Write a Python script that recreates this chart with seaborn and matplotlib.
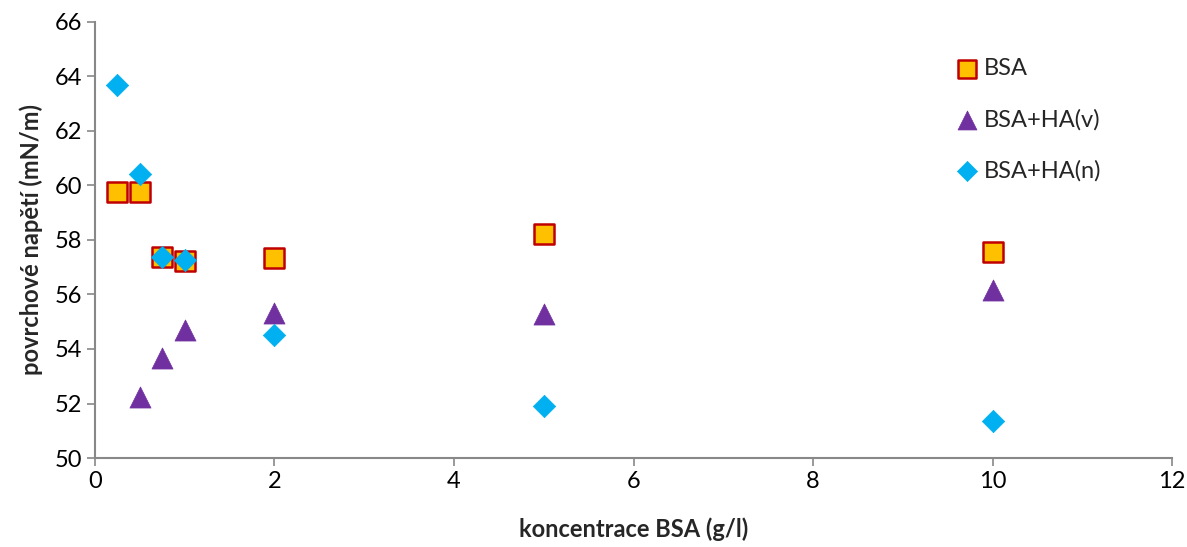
import matplotlib
matplotlib.use("Agg")
import matplotlib.pyplot as plt
import seaborn as sns
import pandas as pd

x_bsa = [0.25, 0.5, 0.75, 1, 2, 5, 10]
y_bsa = [59.75, 59.77, 57.36, 57.22, 57.33, 58.22, 57.56]
x_hav = [0.5, 0.75, 1, 2, 5, 10]
y_hav = [52.25, 53.68, 54.70, 55.32, 55.28, 56.17]
x_han = [0.25, 0.5, 0.75, 1, 2, 5, 10]
y_han = [63.69, 60.42, 57.38, 57.25, 54.51, 51.91, 51.36]
labels = ["BSA", "BSA+HA(v)", "BSA+HA(n)"]

sns.set_style("white")
plt.rcParams['font.family'] = ['Lato', 'DejaVu Sans']

fig = plt.figure(figsize=(11.87, 5.47), dpi=100)
ax = fig.add_axes([0.080, 0.1627, 0.9074, 0.7971])

sns.scatterplot(x=x_bsa, y=y_bsa, ax=ax, marker='s', s=190, color='#FFC000',
                edgecolor='#C00000', linewidth=1.8, label=labels[0], zorder=3)
sns.scatterplot(x=x_hav, y=y_hav, ax=ax, marker='^', s=230, color='#7030A0',
                edgecolor='#7030A0', linewidth=0.5, label=labels[1], zorder=3)
sns.scatterplot(x=x_han, y=y_han, ax=ax, marker='D', s=130, color='#00B0F0',
                edgecolor='#00B0F0', linewidth=0.5, label=labels[2], zorder=4)

ax.set_xlim(0, 12)
ax.set_ylim(50, 66)
ax.set_xticks(range(0, 13, 2))
ax.set_yticks(range(50, 67, 2))
for s in ['top', 'right']:
    ax.spines[s].set_visible(False)
for s in ['left', 'bottom']:
    ax.spines[s].set_color('#888888')
    ax.spines[s].set_linewidth(1.5)
ax.tick_params(axis='both', which='both', direction='out', length=6, width=1.2,
               color='#888888', labelsize=17, labelcolor='black', left=True, bottom=True)
ax.set_xlabel('koncentrace BSA (g/l)', fontsize=17, fontweight='bold', labelpad=18)
ax.set_ylabel('povrchové napětí (mN/m)', fontsize=17, fontweight='bold', labelpad=8)

leg = ax.legend(loc='upper left', bbox_to_anchor=(0.772, 0.955), frameon=False,
                fontsize=17, labelspacing=1.25, handletextpad=-0.25, borderpad=0.2,
                markerscale=0.9)

fig.savefig('out.png', dpi=100)
